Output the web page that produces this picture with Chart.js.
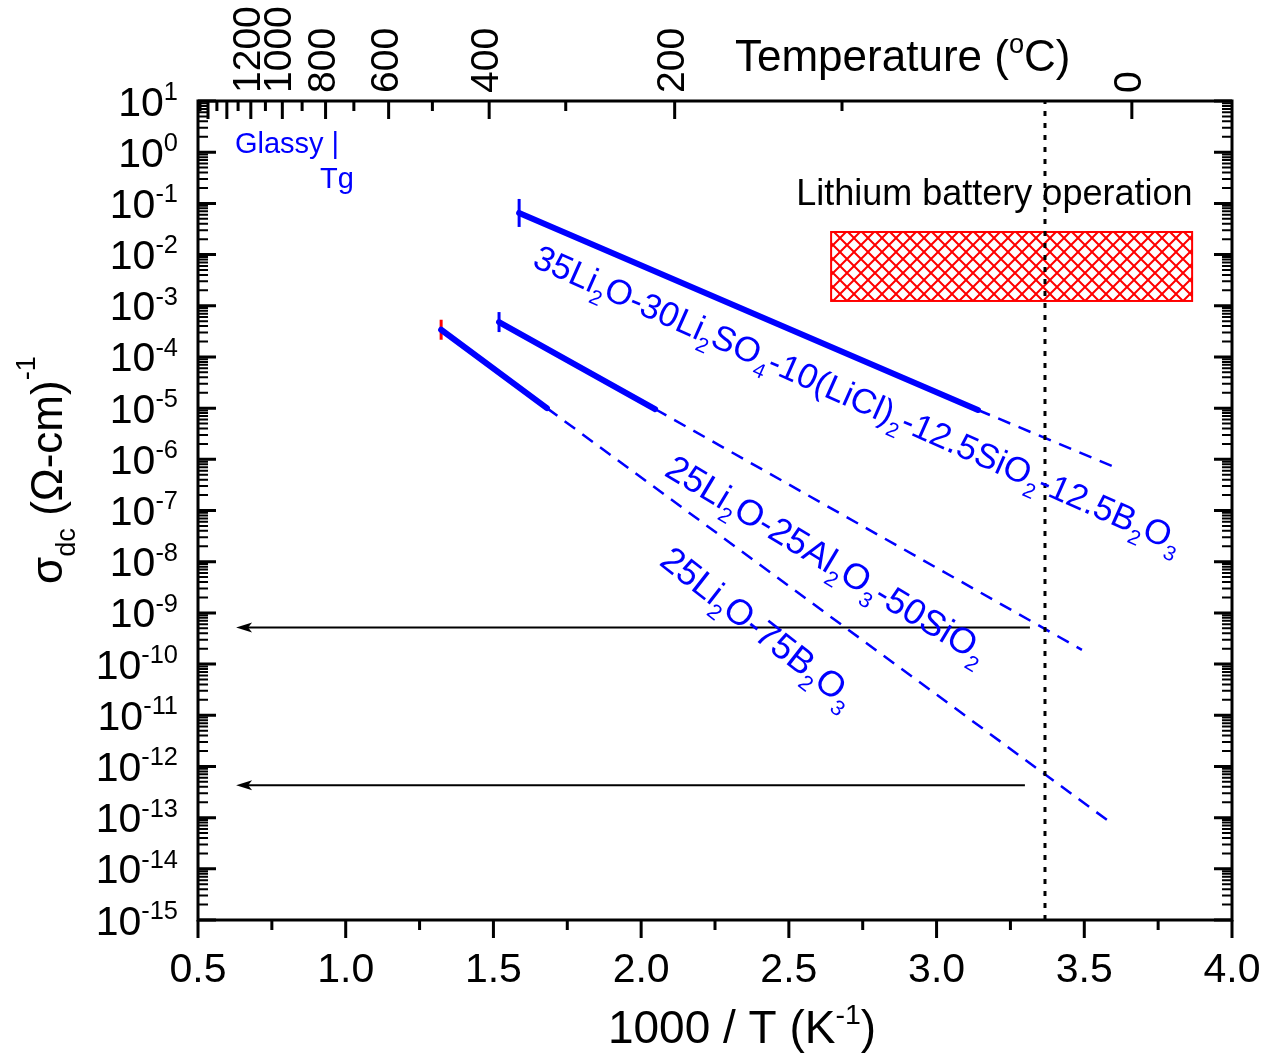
<!DOCTYPE html>
<html>
<head>
<meta charset="utf-8">
<script src="https://cdn.jsdelivr.net/npm/chart.js@4.4.0/dist/chart.umd.min.js"></script>
<style>
  html, body { margin: 0; padding: 0; background: #fff; }
</style>
</head>
<body>
<canvas id="arrheniusChart" width="1266" height="1054"></canvas>
<script>
// axis ranges and ticks
const xMin = 0.5, xMax = 4.0;
const yMin = 1e-15, yMax = 1e1;
const xMajorTicks = [0.5, 1.0, 1.5, 2.0, 2.5, 3.0, 3.5, 4.0];
const xMinorTicks = [0.75, 1.25, 1.75, 2.25, 2.75, 3.25, 3.75];
const yExponents = [1, 0, -1, -2, -3, -4, -5, -6, -7, -8, -9, -10, -11, -12, -13, -14, -15];
const yMinorMult = [2, 3, 4, 5, 6, 7, 8, 9];
const tempMajor = [1600, 1400, 1200, 1000, 800, 600, 400, 200, 0];
const tempMinor = [1700, 1500, 1300, 1100, 900, 700, 500, 300, 100];
const tempLabels = [1200, 1000, 800, 600, 400, 200, 0];

// 35Li2O-30Li2SO4-10(LiCl)2-12.5SiO2-12.5B2O3
const glass1X = [1.587, 3.140];
const glass1Y = [6.5e-2, 9.2e-6];
const glass1ExtX = [3.140, 3.614];
const glass1ExtY = [9.2e-6, 6.6e-7];
// 25Li2O-25Al2O3-50SiO2
const glass2X = [1.519, 2.047];
const glass2Y = [4.8e-4, 9.6e-6];
const glass2ExtX = [2.047, 3.492];
const glass2ExtY = [9.6e-6, 1.9e-10];
// 25Li2O-75B2O3
const glass3X = [1.323, 1.681];
const glass3Y = [3.4e-4, 1.0e-5];
const glass3ExtX = [1.681, 3.577];
const glass3ExtY = [1.0e-5, 9.0e-14];

// room temperature line, arrows, battery window
const roomTempX = 3.367;
const arrow1X = [3.316, 0.629];
const arrow2X = [3.299, 0.629];
const arrowY = [5.2e-10, 4.3e-13];
const batteryX = [2.643, 3.865];
const batteryY = [1.24e-3, 2.76e-2];

const BLUE = '#0000ff';
const RED = '#ff0000';
const FONT = '"Liberation Sans", Arial, sans-serif';

function pts(xs, ys) {
    return xs.map((x, i) => ({ x: x, y: ys[i] }));
}

// draws text with sub/superscript parts
function richText(ctx, parts, x, y, o) {
    const size = o.size;
    const small = size * (o.smallScale || 0.62);
    ctx.save();
    ctx.translate(x, y);
    ctx.rotate((o.angle || 0) * Math.PI / 180);
    ctx.fillStyle = o.color || '#000';
    ctx.textBaseline = 'alphabetic';
    ctx.textAlign = 'left';
    const widths = parts.map(p => {
        ctx.font = (p[1] ? small : size) + 'px ' + FONT;
        return ctx.measureText(p[0]).width;
    });
    const total = widths.reduce((a, b) => a + b, 0);
    let cx = o.align === 'right' ? -total : o.align === 'center' ? -total / 2 : 0;
    parts.forEach((p, i) => {
        ctx.font = (p[1] ? small : size) + 'px ' + FONT;
        let dy = 0;
        if (p[1] === 'sub') dy = size * (o.subDy || 0.28);
        if (p[1] === 'sup') dy = -size * (o.supDy || 0.4);
        ctx.fillText(p[0], cx, dy);
        cx += widths[i];
    });
    ctx.restore();
}

function hatchPattern(ctx) {
    const c = document.createElement('canvas');
    c.width = 14; c.height = 14;
    const g = c.getContext('2d');
    g.strokeStyle = RED;
    g.lineWidth = 2;
    g.beginPath();
    g.moveTo(-2, -2); g.lineTo(16, 16);
    g.moveTo(16, -2); g.lineTo(-2, 16);
    g.stroke();
    return ctx.createPattern(c, 'repeat');
}

const decorations = {
    id: 'decorations',
    beforeDatasetsDraw(chart) {
        const ctx = chart.ctx;
        const xs = chart.scales.x, ys = chart.scales.y;
        const x0 = xs.getPixelForValue(batteryX[0]);
        const x1 = xs.getPixelForValue(batteryX[1]);
        const y0 = ys.getPixelForValue(batteryY[1]);
        const y1 = ys.getPixelForValue(batteryY[0]);
        ctx.save();
        ctx.fillStyle = hatchPattern(ctx);
        ctx.fillRect(x0, y0, x1 - x0, y1 - y0);
        ctx.strokeStyle = RED;
        ctx.lineWidth = 2;
        ctx.strokeRect(x0, y0, x1 - x0, y1 - y0);
        ctx.restore();
    },
    afterDatasetsDraw(chart) {
        const ctx = chart.ctx;
        const xs = chart.scales.x, ys = chart.scales.y;
        const { left, right, top, bottom } = chart.chartArea;
        ctx.save();

        // arrow heads
        ctx.fillStyle = '#000';
        [[arrow1X[1], arrowY[0]], [arrow2X[1], arrowY[1]]].forEach(a => {
            const px = xs.getPixelForValue(a[0]);
            const py = ys.getPixelForValue(a[1]);
            ctx.beginPath();
            ctx.moveTo(px, py);
            ctx.lineTo(px + 16, py - 5);
            ctx.lineTo(px + 12, py);
            ctx.lineTo(px + 16, py + 5);
            ctx.closePath();
            ctx.fill();
        });

        // frame
        ctx.strokeStyle = '#000';
        ctx.lineWidth = 3;
        ctx.strokeRect(left, top, right - left, bottom - top);

        // y ticks, both sides, inward
        ctx.lineWidth = 3;
        ctx.beginPath();
        yExponents.forEach(e => {
            const py = ys.getPixelForValue(Math.pow(10, e));
            ctx.moveTo(left, py); ctx.lineTo(left + 18, py);
            ctx.moveTo(right, py); ctx.lineTo(right - 18, py);
        });
        ctx.stroke();
        ctx.lineWidth = 2;
        ctx.beginPath();
        yExponents.forEach(e => {
            if (e >= 1) return;
            yMinorMult.forEach(m => {
                const py = ys.getPixelForValue(m * Math.pow(10, e));
                ctx.moveTo(left, py); ctx.lineTo(left + 10, py);
                ctx.moveTo(right, py); ctx.lineTo(right - 10, py);
            });
        });
        ctx.stroke();

        // bottom ticks, outward
        ctx.lineWidth = 3;
        ctx.beginPath();
        xMajorTicks.forEach(v => {
            const px = xs.getPixelForValue(v);
            ctx.moveTo(px, bottom); ctx.lineTo(px, bottom + 18);
        });
        ctx.stroke();
        ctx.beginPath();
        xMinorTicks.forEach(v => {
            const px = xs.getPixelForValue(v);
            ctx.moveTo(px, bottom); ctx.lineTo(px, bottom + 10);
        });
        ctx.stroke();

        // top temperature ticks, inward
        const tx = t => xs.getPixelForValue(1000 / (t + 273.15));
        ctx.beginPath();
        tempMajor.forEach(t => {
            const px = tx(t);
            if (px < left || px > right) return;
            ctx.moveTo(px, top); ctx.lineTo(px, top + 18);
        });
        ctx.stroke();
        ctx.beginPath();
        tempMinor.forEach(t => {
            const px = tx(t);
            if (px < left || px > right) return;
            ctx.moveTo(px, top); ctx.lineTo(px, top + 10);
        });
        ctx.stroke();

        // bottom tick labels
        ctx.fillStyle = '#000';
        ctx.font = '41px ' + FONT;
        ctx.textAlign = 'center';
        ctx.textBaseline = 'alphabetic';
        xMajorTicks.forEach(v => {
            ctx.fillText(v.toFixed(1), xs.getPixelForValue(v), bottom + 62);
        });

        // y tick labels 10^n
        yExponents.forEach(e => {
            const py = ys.getPixelForValue(Math.pow(10, e));
            richText(ctx, [['10', ''], [String(e), 'sup']], left - 20, py + 14.5,
                { size: 41, align: 'right', supDy: 0.38, smallScale: 0.62 });
        });

        // top temperature labels, rotated
        tempLabels.forEach(t => {
            const px = tx(t);
            ctx.save();
            ctx.translate(px + 9, top - 8);
            ctx.rotate(-Math.PI / 2);
            ctx.font = '39px ' + FONT;
            ctx.textAlign = 'left';
            ctx.textBaseline = 'alphabetic';
            ctx.fillText(String(t), 0, 0);
            ctx.restore();
        });

        // axis titles
        richText(ctx, [['1000 / T (K', ''], ['-1', 'sup'], [')', '']],
            (left + right) / 2 + 27, bottom + 123, { size: 46, align: 'center', supDy: 0.42 });
        richText(ctx, [['Temperature (', ''], ['o', 'sup'], ['C)', '']],
            735, top - 30, { size: 44, supDy: 0.42 });
        richText(ctx, [['\u03c3', ''], ['dc', 'sub'], [' (\u03a9-cm)', ''], ['-1', 'sup']],
            62, 584, { size: 44, angle: -90, subDy: 0.3, supDy: 0.62 });

        // annotations
        const at = (x, y) => [xs.getPixelForValue(x), ys.getPixelForValue(y)];
        let p = at(1.627, 6.0e-3);
        richText(ctx, [['35Li', ''], ['2', 'sub'], ['O-30Li', ''], ['2', 'sub'], ['SO', ''], ['4', 'sub'],
            ['-10(LiCl)', ''], ['2', 'sub'], ['-12.5SiO', ''], ['2', 'sub'], ['-12.5B', ''], ['2', 'sub'],
            ['O', ''], ['3', 'sub']], p[0], p[1], { size: 35, angle: 24, color: BLUE, smallScale: 0.6 });
        p = at(2.074, 5.0e-7);
        richText(ctx, [['25Li', ''], ['2', 'sub'], ['O-25Al', ''], ['2', 'sub'], ['O', ''], ['3', 'sub'],
            ['-50SiO', ''], ['2', 'sub']], p[0], p[1], { size: 36, angle: 31, color: BLUE, smallScale: 0.6 });
        p = at(2.057, 9.0e-9);
        richText(ctx, [['25Li', ''], ['2', 'sub'], ['O-75B', ''], ['2', 'sub'], ['O', ''], ['3', 'sub']],
            p[0], p[1], { size: 36, angle: 38, color: BLUE, smallScale: 0.6 });

        ctx.font = '29px ' + FONT;
        ctx.textAlign = 'left';
        ctx.fillStyle = BLUE;
        p = at(0.625, 0.96);
        ctx.fillText('Glassy |', p[0], p[1]);
        p = at(0.913, 0.2);
        ctx.fillText('Tg', p[0], p[1]);

        ctx.font = '36px ' + FONT;
        ctx.fillStyle = '#000';
        p = at(2.525, 0.093);
        ctx.fillText('Lithium battery operation', p[0], p[1]);

        ctx.restore();
    }
};

const solid = (xs, ys) => ({
    data: pts(xs, ys), showLine: true, borderColor: BLUE, borderWidth: 6,
    borderCapStyle: 'round', pointRadius: 0
});
const dashed = (xs, ys) => ({
    data: pts(xs, ys), showLine: true, borderColor: BLUE, borderWidth: 2.5,
    borderDash: [13, 9], pointRadius: 0
});
const cap = (x, y, color, r) => ({
    data: [{ x: x, y: y }], showLine: false, pointStyle: 'line', pointRotation: 90,
    pointRadius: r, pointBorderWidth: 3, pointBorderColor: color, pointBackgroundColor: color
});

const ctxArr = document.getElementById('arrheniusChart').getContext('2d');
const arrheniusChart = new Chart(ctxArr, {
    type: 'scatter',
    data: {
        datasets: [
            {
                data: [{ x: roomTempX, y: yMin }, { x: roomTempX, y: yMax }],
                showLine: true, borderColor: '#000', borderWidth: 3, borderDash: [5, 7], pointRadius: 0
            },
            solid(glass1X, glass1Y),
            dashed(glass1ExtX, glass1ExtY),
            solid(glass2X, glass2Y),
            dashed(glass2ExtX, glass2ExtY),
            solid(glass3X, glass3Y),
            dashed(glass3ExtX, glass3ExtY),
            cap(glass1X[0], glass1Y[0], BLUE, 14),
            cap(glass2X[0], glass2Y[0], BLUE, 10),
            cap(glass3X[0], glass3Y[0], RED, 10),
            {
                data: [{ x: arrow1X[0], y: arrowY[0] }, { x: arrow1X[1] + 0.03, y: arrowY[0] }],
                showLine: true, borderColor: '#000', borderWidth: 2, pointRadius: 0
            },
            {
                data: [{ x: arrow2X[0], y: arrowY[1] }, { x: arrow2X[1] + 0.03, y: arrowY[1] }],
                showLine: true, borderColor: '#000', borderWidth: 2, pointRadius: 0
            }
        ]
    },
    options: {
        responsive: false,
        animation: false,
        devicePixelRatio: 1,
        layout: {
            padding: { left: 198, right: 34, top: 101, bottom: 134 }
        },
        plugins: {
            legend: { display: false },
            tooltip: { enabled: false }
        },
        scales: {
            x: { type: 'linear', min: xMin, max: xMax, display: false },
            y: { type: 'logarithmic', min: yMin, max: yMax, display: false }
        }
    },
    plugins: [decorations]
});
</script>
</body>
</html>
